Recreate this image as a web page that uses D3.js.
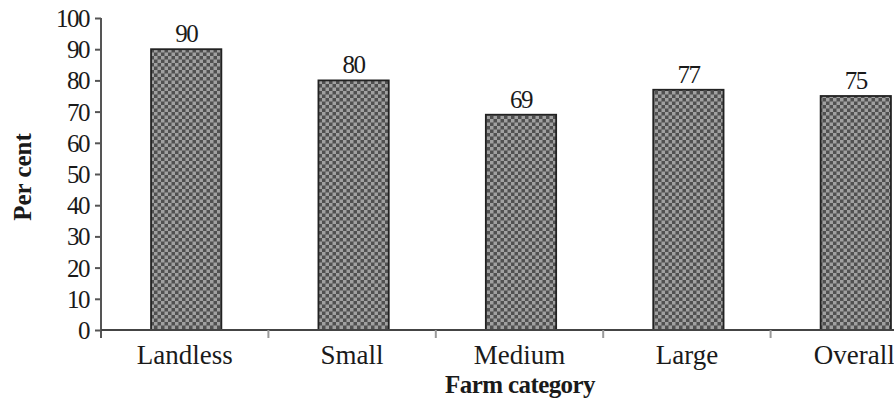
<!DOCTYPE html>
<html><head><meta charset="utf-8">
<script src="https://cdn.jsdelivr.net/npm/d3@7"></script>
<style>body{margin:0;background:#fff}svg{display:block}</style>
</head><body>
<script>
const categories = ["Landless", "Small", "Medium", "Large", "Overall"];
const values = [90, 80, 69, 77, 75];
const yTicks = [0, 10, 20, 30, 40, 50, 60, 70, 80, 90, 100];

const W = 894, H = 404;
const svg = d3.select("body").append("svg").attr("width", W).attr("height", H);
const defs = svg.append("defs");
const pat = defs.append("pattern").attr("id", "chk").attr("patternUnits", "userSpaceOnUse")
  .attr("width", 7).attr("height", 7);
pat.append("rect").attr("width", 7).attr("height", 7).attr("fill", "#505050");
pat.append("rect").attr("x", 0).attr("y", 0).attr("width", 3.5).attr("height", 3.5).attr("fill", "#a0a0a0");
pat.append("rect").attr("x", 3.5).attr("y", 3.5).attr("width", 3.5).attr("height", 3.5).attr("fill", "#a0a0a0");

const x0 = 101, y0 = 330, yTop = 18;
const x = d3.scaleBand().domain(categories).range([x0, 938]).padding(0);
const y = d3.scaleLinear().domain([0, 100]).range([y0, yTop]);
const barW = x.bandwidth() * 0.42;

const serif = "'Liberation Serif', 'Times New Roman', serif";

// bars
svg.selectAll("rect.bar").data(categories).join("rect").attr("class", "bar")
  .attr("x", (d) => x(d) + x.bandwidth() / 2 - barW / 2 + 1.5)
  .attr("y", (d, i) => y(values[i]))
  .attr("width", barW)
  .attr("height", (d, i) => y0 - y(values[i]))
  .attr("fill", "url(#chk)")
  .attr("stroke", "#222").attr("stroke-width", 1.8);

// value labels
svg.selectAll("text.val").data(categories).join("text").attr("class", "val")
  .attr("x", (d) => x(d) + x.bandwidth() / 2 + 1.5)
  .attr("y", (d, i) => y(values[i]) - 7)
  .attr("text-anchor", "middle")
  .attr("font-family", serif).attr("font-size", 25).attr("letter-spacing", -1.5)
  .attr("fill", "#1a1a1a")
  .text((d, i) => values[i]);

// y axis
const yAxis = d3.axisLeft(y).tickValues(yTicks).tickSize(6).tickPadding(6);
const gy = svg.append("g").attr("transform", `translate(${x0},0)`).call(yAxis);
gy.select(".domain").attr("stroke", "#555").attr("stroke-width", 2).attr("d", `M0,${yTop}V${y0 + 8}`);
gy.selectAll(".tick line").attr("stroke", "#555").attr("stroke-width", 2);
gy.selectAll(".tick text").attr("font-family", serif).attr("font-size", 25)
  .attr("letter-spacing", -1.5).attr("fill", "#1a1a1a").attr("dy", "0.34em");

// x axis
const xAxis = d3.axisBottom(x).tickSize(0).tickPadding(16);
const gx = svg.append("g").attr("transform", `translate(0,${y0})`).call(xAxis);
gx.select(".domain").attr("stroke", "#444").attr("stroke-width", 2).attr("d", `M${x0},0H${W}`);
gx.selectAll(".tick text").attr("font-family", serif).attr("font-size", 27)
  .attr("fill", "#1a1a1a").attr("dy", "0.68em");
// boundary ticks
svg.selectAll("line.bt").data(categories.slice(1)).join("line").attr("class", "bt")
  .attr("x1", (d) => x(d)).attr("x2", (d) => x(d))
  .attr("y1", y0).attr("y2", y0 + 8)
  .attr("stroke", "#999").attr("stroke-width", 2);

// axis titles
svg.append("text").attr("x", 520).attr("y", 393).attr("text-anchor", "middle")
  .attr("font-family", serif).attr("font-weight", "bold").attr("font-size", 25)
  .attr("letter-spacing", -0.6).attr("fill", "#1a1a1a").text("Farm category");
svg.append("text").attr("transform", "translate(31,177) rotate(-90)").attr("text-anchor", "middle")
  .attr("font-family", serif).attr("font-weight", "bold").attr("font-size", 25)
  .attr("fill", "#1a1a1a").text("Per cent");
</script>
</body></html>
